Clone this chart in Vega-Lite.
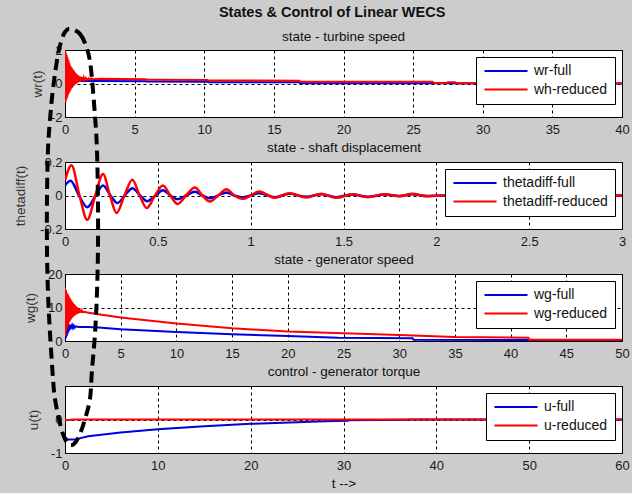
{
  "$schema": "https://vega.github.io/schema/vega-lite/v6.json",
  "background": "#cccccc",
  "autosize": {"type": "pad"},
  "padding": {"left": 12, "top": 4, "right": 5, "bottom": 3},
  "title": {"text": "States & Control of Linear WECS", "fontSize": 14.5, "fontWeight": "bold", "font": "Liberation Sans", "color": "#111", "anchor": "middle", "dx": 11, "offset": 0},
  "spacing": 45,
  "bounds": "flush",
  "config": {
    "view": {"fill": "white", "stroke": "black", "strokeWidth": 1},
    "axis": {"grid": true, "gridColor": "#000", "gridDash": [3, 3], "gridWidth": 1, "domain": false, "ticks": false, "labelFont": "Liberation Sans", "labelFontSize": 13, "labelColor": "#1a1a1a", "titleFont": "Liberation Sans", "titleFontSize": 13.5, "titleFontWeight": "normal", "titleColor": "#333", "labelFlush": false, "labelOverlap": false, "labelExpr": "datum.value < 0 ? '-' + format(-datum.value, '~g') : format(datum.value, '~g')"},
    "axisX": {"labelPadding": 6, "titlePadding": 4, "titleColor": "#111"},
    "axisY": {"labelPadding": 3, "titleBaseline": "middle"},
    "legend": {"orient": "top-right", "offset": 7, "fillColor": "white", "strokeColor": "black", "strokeWidth": 1, "padding": 7, "symbolType": "M-4,0H4", "symbolSize": 116, "symbolStrokeWidth": 2, "symbolOffset": 16, "labelOffset": 21, "labelFont": "Liberation Sans", "labelFontSize": 14, "labelColor": "#111", "rowPadding": 4.5},
    "title": {"font": "Liberation Sans", "fontSize": 13.5, "fontWeight": "normal", "color": "#111", "anchor": "middle", "baseline": "alphabetic"},
    "line": {"strokeWidth": 2}
  },
  "datasets": {
    "r1": [{"t":0,"v":1.95},{"t":0.03,"v":-1.15},{"t":0.06,"v":1.85},{"t":0.09,"v":-1.0},{"t":0.12,"v":1.7},{"t":0.15,"v":-0.85},{"t":0.18,"v":1.55},{"t":0.21,"v":-0.7},{"t":0.24,"v":1.4},{"t":0.27,"v":-0.6},{"t":0.3,"v":1.25},{"t":0.33,"v":-0.5},{"t":0.36,"v":1.1},{"t":0.39,"v":-0.4},{"t":0.42,"v":1.0},{"t":0.45,"v":-0.3},{"t":0.48,"v":0.95},{"t":0.51,"v":-0.25},{"t":0.54,"v":0.85},{"t":0.57,"v":-0.18},{"t":0.6,"v":0.8},{"t":0.63,"v":-0.12},{"t":0.66,"v":0.72},{"t":0.69,"v":-0.08},{"t":0.72,"v":0.66},{"t":0.75,"v":-0.03},{"t":0.78,"v":0.6},{"t":0.81,"v":0.0},{"t":0.84,"v":0.55},{"t":0.87,"v":0.03},{"t":0.9,"v":0.5},{"t":0.93,"v":0.06},{"t":0.96,"v":0.47},{"t":1.0,"v":0.09},{"t":1.05,"v":0.43},{"t":1.1,"v":0.12},{"t":1.15,"v":0.4},{"t":1.2,"v":0.15},{"t":1.25,"v":0.37},{"t":1.3,"v":0.18},{"t":1.35,"v":0.35},{"t":1.4,"v":0.2},{"t":1.5,"v":0.33},{"t":1.6,"v":0.22},{"t":1.7,"v":0.31},{"t":1.8,"v":0.24},{"t":1.9,"v":0.3},{"t":2.0,"v":0.26},{"t":2.5,"v":0.28},{"t":5.8,"v":0.26},{"t":5.9,"v":0.22},{"t":10.2,"v":0.21},{"t":10.3,"v":0.18},{"t":16.8,"v":0.17},{"t":16.9,"v":0.11},{"t":26.4,"v":0.1},{"t":26.5,"v":0.03},{"t":27.4,"v":0.03},{"t":27.5,"v":0.07},{"t":28.0,"v":0.07},{"t":28.1,"v":0.02},{"t":40,"v":0.02}],
    "b1": [{"t":0,"v":0},{"t":0.05,"v":-0.5},{"t":0.1,"v":0.45},{"t":0.15,"v":-0.35},{"t":0.2,"v":0.4},{"t":0.25,"v":-0.25},{"t":0.3,"v":0.35},{"t":0.35,"v":-0.15},{"t":0.4,"v":0.3},{"t":0.45,"v":-0.05},{"t":0.5,"v":0.27},{"t":0.55,"v":0.02},{"t":0.6,"v":0.24},{"t":0.7,"v":0.08},{"t":0.8,"v":0.2},{"t":0.9,"v":0.12},{"t":1.0,"v":0.18},{"t":1.2,"v":0.15},{"t":2,"v":0.15},{"t":5.8,"v":0.14},{"t":5.9,"v":0.12},{"t":10.2,"v":0.11},{"t":10.3,"v":0.08},{"t":16.8,"v":0.07},{"t":16.9,"v":0.02},{"t":26.4,"v":0.01},{"t":40,"v":0.0}],
    "r2": [{"t":0,"v":0.09},{"t":0.035,"v":0.18},{"t":0.078,"v":0},{"t":0.12,"v":-0.145},{"t":0.163,"v":0},{"t":0.205,"v":0.128},{"t":0.242,"v":0},{"t":0.278,"v":-0.105},{"t":0.32,"v":0},{"t":0.363,"v":0.094},{"t":0.402,"v":0},{"t":0.44,"v":-0.075},{"t":0.485,"v":0},{"t":0.527,"v":0.06},{"t":0.567,"v":0},{"t":0.607,"v":-0.051},{"t":0.652,"v":0},{"t":0.7,"v":0.048},{"t":0.74,"v":0},{"t":0.78,"v":-0.036},{"t":0.825,"v":0},{"t":0.87,"v":0.038},{"t":0.912,"v":0},{"t":0.957,"v":-0.02},{"t":1.0,"v":0},{"t":1.045,"v":0.024},{"t":1.13,"v":-0.014},{"t":1.21,"v":0.014},{"t":1.3,"v":-0.012},{"t":1.38,"v":0.01},{"t":1.46,"v":-0.014},{"t":1.55,"v":0.008},{"t":1.63,"v":-0.01},{"t":1.72,"v":0.008},{"t":1.8,"v":-0.004},{"t":1.87,"v":0.01},{"t":1.95,"v":-0.004},{"t":2.05,"v":0},{"t":3.0,"v":0}],
    "b2": [{"t":0,"v":0.06},{"t":0.03,"v":0.088},{"t":0.075,"v":0},{"t":0.12,"v":-0.07},{"t":0.165,"v":0},{"t":0.205,"v":0.06},{"t":0.245,"v":0},{"t":0.282,"v":-0.045},{"t":0.322,"v":0},{"t":0.363,"v":0.044},{"t":0.405,"v":0},{"t":0.442,"v":-0.034},{"t":0.487,"v":0},{"t":0.527,"v":0.032},{"t":0.568,"v":0},{"t":0.607,"v":-0.022},{"t":0.653,"v":0},{"t":0.7,"v":0.022},{"t":0.74,"v":0},{"t":0.78,"v":-0.016},{"t":0.825,"v":0},{"t":0.87,"v":0.018},{"t":0.912,"v":0},{"t":0.957,"v":-0.012},{"t":1.0,"v":0},{"t":1.045,"v":0.014},{"t":1.13,"v":-0.01},{"t":1.21,"v":0.01},{"t":1.3,"v":-0.008},{"t":1.38,"v":0.008},{"t":1.46,"v":-0.01},{"t":1.55,"v":0.006},{"t":1.63,"v":-0.008},{"t":1.72,"v":0.006},{"t":1.8,"v":-0.003},{"t":1.87,"v":0.007},{"t":1.95,"v":-0.003},{"t":2.05,"v":0},{"t":3.0,"v":0}],
    "r3": [{"t":0,"v":16},{"t":0.04,"v":1.5},{"t":0.08,"v":15.2},{"t":0.12,"v":3.0},{"t":0.16,"v":14.5},{"t":0.2,"v":4.0},{"t":0.24,"v":14.0},{"t":0.28,"v":4.8},{"t":0.32,"v":13.6},{"t":0.36,"v":5.5},{"t":0.4,"v":13.0},{"t":0.44,"v":6.0},{"t":0.48,"v":12.5},{"t":0.52,"v":6.4},{"t":0.56,"v":12.1},{"t":0.6,"v":6.8},{"t":0.64,"v":11.7},{"t":0.68,"v":7.1},{"t":0.72,"v":11.3},{"t":0.76,"v":7.4},{"t":0.8,"v":11.0},{"t":0.84,"v":7.6},{"t":0.88,"v":10.7},{"t":0.92,"v":7.8},{"t":0.96,"v":10.4},{"t":1.0,"v":8.0},{"t":1.04,"v":10.1},{"t":1.08,"v":8.1},{"t":1.12,"v":9.9},{"t":1.16,"v":8.2},{"t":1.2,"v":9.7},{"t":1.24,"v":8.3},{"t":1.28,"v":9.5},{"t":1.32,"v":8.4},{"t":1.36,"v":9.3},{"t":1.4,"v":8.5},{"t":1.44,"v":9.2},{"t":1.48,"v":8.5},{"t":1.52,"v":9.0},{"t":1.56,"v":8.6},{"t":1.7,"v":8.7},{"t":2,"v":8.5},{"t":3,"v":8.0},{"t":5,"v":7.0},{"t":10,"v":5.2},{"t":15,"v":3.8},{"t":20,"v":2.8},{"t":25,"v":2.3},{"t":30,"v":1.8},{"t":35,"v":1.2},{"t":41.6,"v":1.0},{"t":41.7,"v":0.4},{"t":50,"v":0.4}],
    "b3": [{"t":0,"v":0.5},{"t":0.04,"v":3.0},{"t":0.08,"v":0.8},{"t":0.12,"v":4.0},{"t":0.16,"v":1.5},{"t":0.2,"v":4.8},{"t":0.24,"v":2.2},{"t":0.28,"v":5.0},{"t":0.32,"v":2.8},{"t":0.36,"v":5.0},{"t":0.4,"v":3.2},{"t":0.44,"v":4.9},{"t":0.48,"v":3.5},{"t":0.52,"v":4.8},{"t":0.56,"v":3.7},{"t":0.64,"v":4.7},{"t":0.72,"v":3.9},{"t":0.8,"v":4.6},{"t":0.88,"v":4.0},{"t":1.0,"v":4.4},{"t":1.2,"v":4.2},{"t":2,"v":4.2},{"t":3,"v":4.0},{"t":5,"v":3.5},{"t":10,"v":2.7},{"t":15,"v":2.0},{"t":20,"v":1.5},{"t":24.5,"v":1.0},{"t":31.2,"v":0.8},{"t":31.3,"v":0.4},{"t":41.5,"v":0.3},{"t":41.6,"v":0.05},{"t":50,"v":0.05}],
    "r4": [{"t":0,"v":-0.02},{"t":1,"v":0.0},{"t":60,"v":0.0}],
    "b4": [{"t":0,"v":-0.52},{"t":0.3,"v":-0.6},{"t":1,"v":-0.6},{"t":2.5,"v":-0.5},{"t":6,"v":-0.39},{"t":10,"v":-0.29},{"t":15,"v":-0.2},{"t":20,"v":-0.13},{"t":25,"v":-0.08},{"t":28,"v":-0.05},{"t":30.5,"v":-0.04},{"t":30.6,"v":-0.02},{"t":37,"v":-0.01},{"t":37.1,"v":0.0},{"t":60,"v":0.0}],
    "ell": [{"i":1,"t":0.54,"v":11.66},{"i":2,"t":1.61,"v":11.51},{"i":3,"t":2.37,"v":11.07},{"i":4,"t":2.8,"v":10.46},{"i":5,"t":3.23,"v":9.06},{"i":6,"t":3.44,"v":8.07},{"i":7,"t":3.55,"v":6.58},{"i":8,"t":3.55,"v":5.09},{"i":9,"t":3.44,"v":3.75},{"i":10,"t":3.23,"v":2.55},{"i":11,"t":2.9,"v":1.45},{"i":12,"t":2.69,"v":0.61},{"i":13,"t":2.15,"v":0.01},{"i":14,"t":1.61,"v":-0.43},{"i":15,"t":0.97,"v":-0.73},{"i":16,"t":0.32,"v":-0.73},{"i":17,"t":-0.22,"v":-0.43},{"i":18,"t":-0.65,"v":0.01},{"i":19,"t":-1.08,"v":0.61},{"i":20,"t":-1.29,"v":1.21},{"i":21,"t":-1.61,"v":2.55},{"i":22,"t":-1.83,"v":3.75},{"i":23,"t":-1.94,"v":5.09},{"i":24,"t":-1.94,"v":6.58},{"i":25,"t":-1.83,"v":8.07},{"i":26,"t":-1.61,"v":8.97},{"i":27,"t":-1.29,"v":9.87},{"i":28,"t":-0.75,"v":10.91},{"i":29,"t":-0.32,"v":11.36},{"i":30,"t":0.0,"v":11.57}]
  },
  "resolve": {"scale": {"color": "independent", "x": "independent", "y": "independent"}, "legend": {"color": "independent"}},
  "vconcat": [
    {
      "width": 557, "height": 67,
      "title": {"text": "state - turbine speed", "offset": 1},
      "encoding": {
        "x": {"field": "t", "type": "quantitative", "scale": {"domain": [0, 40], "nice": false}, "axis": {"values": [0, 5, 10, 15, 20, 25, 30, 35, 40], "title": "state - shaft displacement"}},
        "y": {"field": "v", "type": "quantitative", "scale": {"domain": [-2, 2], "nice": false, "zero": false}, "axis": {"values": [-2, 0, 2], "title": "wr(t)", "titleX": -28, "titleY": 33.5}}
      },
      "layer": [
        {"data": {"name": "b1"}, "mark": {"type": "line", "clip": true}, "encoding": {"color": {"datum": "wr-full", "scale": {"domain": ["wr-full", "wh-reduced"], "range": ["#0000e0", "#ff0000"]}, "legend": {"title": null}}}},
        {"data": {"name": "r1"}, "mark": {"type": "line", "clip": true}, "encoding": {"color": {"datum": "wh-reduced"}}}
      ]
    },
    {
      "width": 557, "height": 67,
      "encoding": {
        "x": {"field": "t", "type": "quantitative", "scale": {"domain": [0, 3], "nice": false}, "axis": {"values": [0, 0.5, 1, 1.5, 2, 2.5, 3], "title": "state - generator speed"}},
        "y": {"field": "v", "type": "quantitative", "scale": {"domain": [-0.2, 0.2], "nice": false, "zero": false}, "axis": {"values": [-0.2, 0, 0.2], "title": "thetadiff(t)", "titleX": -45, "titleY": 33.5}}
      },
      "layer": [
        {"data": {"name": "b2"}, "mark": {"type": "line", "clip": true, "interpolate": "monotone", "strokeWidth": 2.5}, "encoding": {"color": {"datum": "thetadiff-full", "scale": {"domain": ["thetadiff-full", "thetadiff-reduced"], "range": ["#0000e0", "#ff0000"]}, "legend": {"title": null}}}},
        {"data": {"name": "r2"}, "mark": {"type": "line", "clip": true, "interpolate": "monotone", "strokeWidth": 2.5}, "encoding": {"color": {"datum": "thetadiff-reduced"}}}
      ]
    },
    {
      "width": 557, "height": 67,
      "encoding": {
        "x": {"field": "t", "type": "quantitative", "scale": {"domain": [0, 50], "nice": false}, "axis": {"values": [0, 5, 10, 15, 20, 25, 30, 35, 40, 45, 50], "title": "control - generator torque"}},
        "y": {"field": "v", "type": "quantitative", "scale": {"domain": [0, 20], "nice": false}, "axis": {"values": [0, 10, 20], "title": "wg(t)", "titleX": -35, "titleY": 33.5}}
      },
      "layer": [
        {"data": {"name": "b3"}, "mark": {"type": "line", "clip": true}, "encoding": {"color": {"datum": "wg-full", "scale": {"domain": ["wg-full", "wg-reduced"], "range": ["#0000e0", "#ff0000"]}, "legend": {"title": null}}}},
        {"data": {"name": "r3"}, "mark": {"type": "line", "clip": true}, "encoding": {"color": {"datum": "wg-reduced"}}}
      ]
    },
    {
      "width": 557, "height": 67,
      "encoding": {
        "x": {"field": "t", "type": "quantitative", "scale": {"domain": [0, 60], "nice": false}, "axis": {"values": [0, 10, 20, 30, 40, 50, 60], "title": "t -->"}},
        "y": {"field": "v", "type": "quantitative", "scale": {"domain": [-1, 1], "nice": false, "zero": false}, "axis": {"values": [-1, 0], "title": "u(t)", "titleX": -32, "titleY": 33.5}}
      },
      "layer": [
        {"data": {"name": "b4"}, "mark": {"type": "line", "clip": true}, "encoding": {"color": {"datum": "u-full", "scale": {"domain": ["u-full", "u-reduced"], "range": ["#0000e0", "#ff0000"]}, "legend": {"title": null}}}},
        {"data": {"name": "r4"}, "mark": {"type": "line", "clip": true}, "encoding": {"color": {"datum": "u-reduced"}}},
        {"data": {"name": "ell"}, "mark": {"type": "line", "clip": false, "color": "black", "strokeWidth": 4, "strokeDash": [11, 6], "interpolate": "cardinal-closed"}, "encoding": {"order": {"field": "i", "type": "quantitative"}}}
      ]
    }
  ]
}
